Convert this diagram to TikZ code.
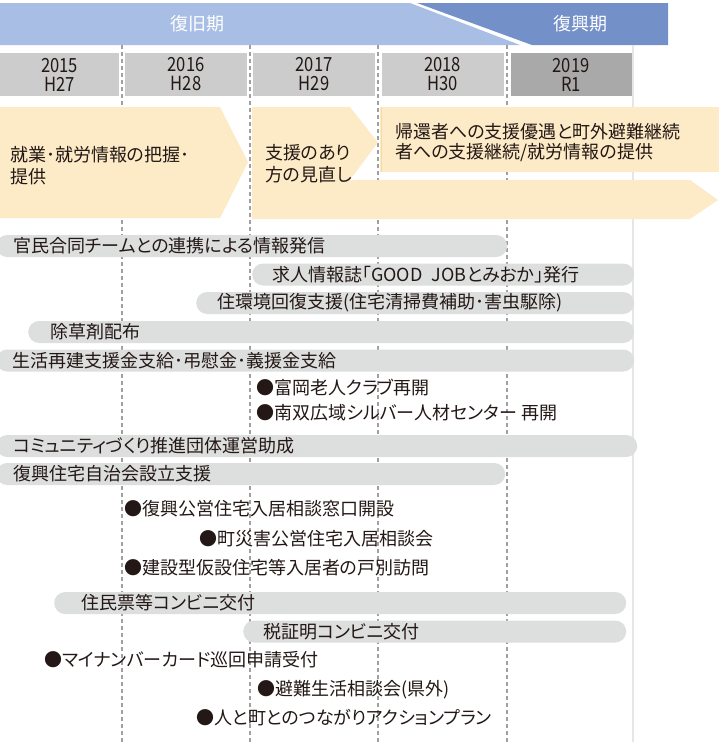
\documentclass[tikz,border=0pt]{standalone}
\usepackage{fontspec}
\setmainfont[RawFeature=+palt]{Noto Sans CJK JP}
\newfontfamily\yearfont[FakeStretch=0.85]{Noto Sans CJK JP}
\definecolor{hdrlight}{HTML}{A9BEE4}
\definecolor{hdrdark}{HTML}{7490C8}
\definecolor{yearc}{HTML}{CBCCCB}
\definecolor{yeardark}{HTML}{A8A9A8}
\definecolor{cream}{HTML}{FDEBC8}
\definecolor{creamedge}{HTML}{F6D9A6}
\definecolor{barc}{HTML}{DDDEDE}
\definecolor{dashc}{HTML}{A0A0A0}
\definecolor{txt}{HTML}{231815}
\definecolor{rline}{HTML}{E6E6E6}
\begin{document}
\begin{tikzpicture}[x=1pt,y=-1pt,
  dashline/.style={draw=dashc, line width=1.1pt, dash pattern=on 4pt off 3pt},
  yearbox/.style={fill=yearc, minimum width=122pt, minimum height=43pt, inner sep=0pt,
    align=center, text=txt, font=\yearfont\fontsize{19.5}{19}\selectfont},
  hdrtext/.style={text=white, inner sep=0pt, font=\fontsize{18}{20}\selectfont},
  lbl/.style={anchor=west, inner sep=0pt, text=txt, font=\fontsize{18}{20}\selectfont},
  chevtext/.style={lbl, align=left, font=\fontsize{18}{22}\selectfont},
  barbox/.style={anchor=west, fill=barc, rounded corners=11pt, minimum height=22pt, inner sep=0pt}
]
\useasboundingbox (0,0) rectangle (719,742);
\fill[white] (0,0) rectangle (719,742);

% header band
\fill[hdrlight] (0,3) -- (410,3) -- (520,45) -- (0,45) -- cycle;
\fill[hdrdark] (417,3) -- (668,3) -- (668,45) -- (532,45) -- cycle;
\node[hdrtext] (h1) at (197,24) {復旧期};
\node[hdrtext] (h2) at (580,24) {復興期};

% timeline grid
\draw[dashline] (122,45) -- (122,742);
\draw[dashline] (250,45) -- (250,742);
\draw[dashline] (378,45) -- (378,742);
\draw[dashline] (507,45) -- (507,742);
\draw[rline, line width=1.6pt] (633,45) -- (633,742);

% year boxes
\node[yearbox, minimum width=119pt] (y2015) at (59.5,74.5) {2015\\H27};
\node[yearbox] (y2016) at (186,74.5) {2016\\H28};
\node[yearbox] (y2017) at (314,74.5) {2017\\H29};
\node[yearbox] (y2018) at (442.5,74.5) {2018\\H30};
\node[yearbox, fill=yeardark, minimum width=121pt] (y2019) at (571,74.5) {2019\\R1};

% chevrons
\fill[cream] (0,107) -- (220,107) -- (248,162) -- (220,218) -- (0,218) -- cycle;
\fill[cream] (252,107) -- (350,107) -- (378,142.5) -- (349,181) -- (252,181) -- cycle;
\fill[cream] (252,180) -- (690,180) -- (718,200) -- (690,219) -- (252,219) -- cycle;
\fill[cream] (380,107) rectangle (719,172);
\draw[creamedge, line width=1pt] (381,107) -- (381,172);
\node[chevtext] (c1) at (10,166) {就業･就労情報の把握･\\提供};
\node[chevtext] (c2) at (265,164) {支援のあり\\方の見直し};
\node[lbl, align=left, font=\fontsize{18}{20}\selectfont] (c3) at (395,143) {帰還者への支援優遇と町外避難継続\\者への支援継続/就労情報の提供};

% bars
\node[barbox, minimum width=511pt] (b1) at (-4,246) {};
\node[lbl] (t1) at (13,246) {官民合同チームとの連携による情報発信};
\node[barbox, minimum width=382pt] (b2) at (252,274.5) {};
\node[lbl] (t2) at (272,274.5) {求人情報誌「GOOD\hspace{9pt}JOBとみおか」発行};
\node[barbox, minimum width=438pt] (b3) at (196,303) {};
\node[lbl] (t3) at (217,303) {住環境回復支援(住宅清掃費補助･害虫駆除)};
\node[barbox, minimum width=606pt] (b4) at (28,332) {};
\node[lbl] (t4) at (50,332) {除草剤配布};
\node[barbox, minimum width=638pt] (b5) at (-4,360.5) {};
\node[lbl] (t5) at (12,360.5) {生活再建支援金支給･弔慰金･義援金支給};

\node[lbl] (p1) at (256,388) {●富岡老人クラブ再開};
\node[lbl] (p2) at (256,413) {●南双広域シルバー人材センター 再開};

\node[barbox, minimum width=641pt] (b6) at (-4,446) {};
\node[lbl] (t6) at (13,446) {コミュニティづくり推進団体運営助成};
\node[barbox, minimum width=509pt] (b7) at (-4,474) {};
\node[lbl] (t7) at (13,474) {復興住宅自治会設立支援};

\node[lbl] (p3) at (124,509) {●復興公営住宅入居相談窓口開設};
\node[lbl] (p4) at (199,539) {●町災害公営住宅入居相談会};
\node[lbl] (p5) at (124,568) {●建設型仮設住宅等入居者の戸別訪問};

\node[barbox, minimum width=572pt] (b8) at (54,603) {};
\node[lbl] (t8) at (81,603) {住民票等コンビニ交付};
\node[barbox, minimum width=383pt] (b9) at (243,631.5) {};
\node[lbl] (t9) at (263,631.5) {税証明コンビニ交付};

\node[lbl] (p6) at (44,660) {●マイナンバーカード巡回申請受付};
\node[lbl] (p7) at (257,690) {●避難生活相談会(県外)};
\node[lbl] (p8) at (196,718) {●人と町とのつながりアクションプラン};
\end{tikzpicture}
\end{document}
